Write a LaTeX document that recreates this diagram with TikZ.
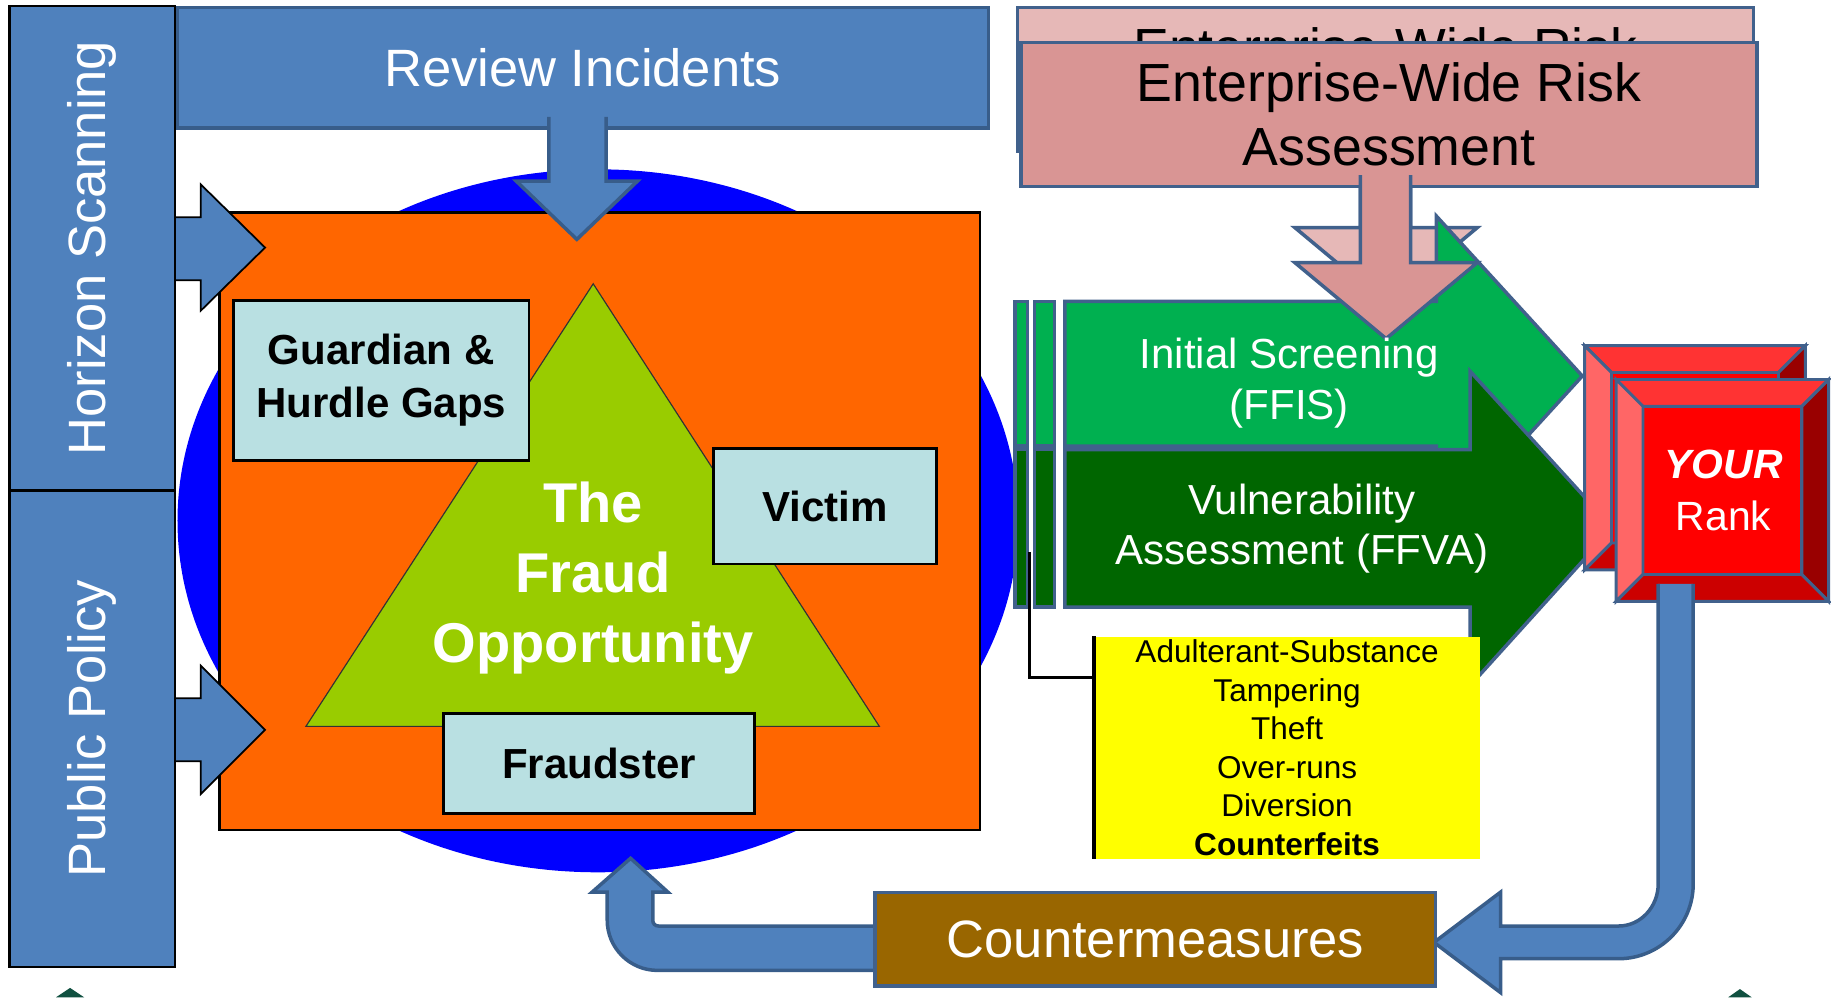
\documentclass[tikz,border=0pt]{standalone}
\usepackage{fontspec}
\setmainfont{Liberation Sans}

\definecolor{panelblue}{RGB}{79,129,189}
\definecolor{paneledge}{RGB}{56,93,138}
\definecolor{shapeedge}{RGB}{65,97,140}
\definecolor{riskpink}{RGB}{217,149,148}
\definecolor{riskpinkback}{RGB}{230,184,183}
\definecolor{screengreen}{RGB}{0,176,80}
\definecolor{vulngreen}{RGB}{0,102,0}
\definecolor{fraudorange}{RGB}{255,102,0}
\definecolor{triangreen}{RGB}{153,204,0}
\definecolor{gapcyan}{RGB}{185,224,226}
\definecolor{counterbrown}{RGB}{153,102,0}
\definecolor{listyellow}{RGB}{255,255,0}
\definecolor{bevtop}{RGB}{255,51,51}
\definecolor{bevleft}{RGB}{255,102,102}
\definecolor{bevright}{RGB}{153,0,0}
\definecolor{bevbottom}{RGB}{204,0,0}
\definecolor{bevface}{RGB}{255,0,0}
\definecolor{stubgreen}{RGB}{16,80,64}

\tikzset{
  panel/.style={draw=black, line width=2pt, fill=panelblue, text=white, inner sep=0pt},
  blockarrow/.style={draw=paneledge, line width=3pt, fill=panelblue},
  sidearrow/.style={draw=black, line width=1.5pt, fill=panelblue},
  riskbox/.style={draw=shapeedge, line width=3pt, minimum width=630pt, minimum height=123pt,
    anchor=north west, align=center, font=\fontsize{46}{55}\selectfont},
  riskarrow/.style={draw=shapeedge, line width=3pt},
  gapbox/.style={draw=black, line width=2.5pt, fill=gapcyan, align=center,
    font=\fontsize{36}{46}\selectfont\bfseries},
  greenarrow/.style={draw=shapeedge, line width=3pt},
  greentext/.style={text=white, align=center, font=\fontsize{36}{43}\selectfont},
  bevel/.style={draw=shapeedge, line width=2.5pt},
}

% bevelled red box: x1 y1 x2 y2
\newcommand{\rankbevel}[4]{%
  \filldraw[bevel, fill=bevface] (#1+23,#2+23) rectangle (#3-23,#4-23);
  \filldraw[bevel, fill=bevtop] (#1,#2) -- (#3,#2) -- (#3-23,#2+23) -- (#1+23,#2+23) -- cycle;
  \filldraw[bevel, fill=bevleft] (#1,#2) -- (#1+23,#2+23) -- (#1+23,#4-23) -- (#1,#4) -- cycle;
  \filldraw[bevel, fill=bevright] (#3,#2) -- (#3,#4) -- (#3-23,#4-23) -- (#3-23,#2+23) -- cycle;
  \filldraw[bevel, fill=bevbottom] (#1,#4) -- (#3,#4) -- (#3-23,#4-23) -- (#1+23,#4-23) -- cycle;
}

\begin{document}
\begin{tikzpicture}[x=1pt, y=-1pt]
    \useasboundingbox (0,0) rectangle (1568,854);

    % the opportunity
    \fill[blue] (512,446) ellipse [x radius=360, y radius=301];
    \node[draw=black, line width=2pt, fill=fraudorange, minimum width=651pt, minimum height=529pt,
      anchor=north west] (frame) at (187,181) {};
    \filldraw[draw=black!80, line width=1pt, fill=triangreen] (508,243) -- (753,622) -- (262,622) -- cycle;
    \node[text=white, align=center, font=\fontsize{48}{60}\selectfont\bfseries] (opp) at (508,495)
      {The\\Fraud\\Opportunity};

    \node[gapbox, minimum width=253pt, minimum height=137pt] (gaps) at (326.5,325.5) {Guardian \&\\Hurdle Gaps};
    \node[gapbox, minimum width=191pt, minimum height=99pt] (victim) at (706.5,433.5) {Victim};
    \node[gapbox, minimum width=266pt, minimum height=86pt] (fraudster) at (513,654) {Fraudster};

    % inputs from the left and the top
    \filldraw[sidearrow] (145,186) -- (172,186) -- (172,158) -- (227,212) -- (172,266) -- (172,240) -- (145,240);
    \filldraw[sidearrow] (145,598) -- (172,598) -- (172,570) -- (227,625) -- (172,680) -- (172,652) -- (145,652);

    \node[panel, draw=paneledge, line width=3pt, minimum width=695pt, minimum height=103pt,
      anchor=north west, font=\fontsize{45}{54}\selectfont] (review) at (150,5) {Review Incidents};
    \filldraw[blockarrow] (470,100) -- (470,155) -- (442,155) -- (494,205) -- (546,155) -- (519,155) -- (519,100);

    \node[panel, rotate=90, minimum width=415pt, minimum height=142pt,
      font=\fontsize{45}{54}\selectfont] (scan) at (79,212.5) {Horizon Scanning};
    \node[panel, rotate=90, minimum width=408pt, minimum height=142pt,
      font=\fontsize{45}{54}\selectfont] (policy) at (79,624) {Public Policy};

    % risk assessment
    \node[riskbox, fill=riskpinkback] (riskback) at (870,5) {Enterprise-Wide Risk\\Assessment};
    \filldraw[riskarrow, fill=riskpinkback] (1165,120) -- (1165,195) -- (1109,195) -- (1187,260) -- (1265,195) -- (1208,195) -- (1208,120);

    % screening and vulnerability
    \filldraw[greenarrow, fill=screengreen] (869,258) rectangle (880,382);
    \filldraw[greenarrow, fill=screengreen] (886,258) rectangle (903,382);
    \filldraw[greenarrow, fill=vulngreen] (869,385) rectangle (880,520);
    \filldraw[greenarrow, fill=vulngreen] (886,385) rectangle (903,520);
    \filldraw[greenarrow, fill=screengreen] (912,258) -- (1230,258) -- (1230,185) -- (1355,322) -- (1230,459) -- (1230,382) -- (912,382) -- cycle;

    \node[riskbox, fill=riskpink] (risk) at (873,35) {Enterprise-Wide Risk\\Assessment};
    \filldraw[riskarrow, fill=riskpink] (1165,150) -- (1165,225) -- (1109,225) -- (1187,290) -- (1265,225) -- (1208,225) -- (1208,150);

    \filldraw[greenarrow, fill=vulngreen] (912,385) -- (1259,385) -- (1259,318) -- (1381,452) -- (1259,587) -- (1259,520) -- (912,520) -- cycle;
    \node[greentext] (screen) at (1104,328) {Initial Screening\\(FFIS)};
    \node[greentext] (vuln) at (1115,453) {Vulnerability\\Assessment (FFVA)};

    % ranking
    \rankbevel{1357}{296}{1546}{488}
    \rankbevel{1384}{325}{1566}{515}
    \node[text=white, align=center, font=\fontsize{35}{45}\selectfont] (rank) at (1476,420)
      {\textbf{\textit{YOUR}}\\Rank};

    % fraud types
    \node[fill=listyellow, minimum width=330pt, minimum height=190pt, anchor=north west, align=center,
      inner sep=0pt, font=\fontsize{27}{33}\selectfont] (list) at (937,545)
      {Adulterant-Substance\\Tampering\\Theft\\Over-runs\\Diversion\\\textbf{Counterfeits}};
    \draw[line width=3pt] (list.north west) -- (list.south west);
    \coordinate (tag) at (882,473);
    \coordinate (tagend) at (937,580);
    \draw[line width=2.5pt] (tag) |- (tagend);

    % feedback loop
    \filldraw[blockarrow] (1450,500) -- (1450,757) .. controls (1450,792.3) and (1421.3,821) .. (1386,821)
      -- (1285,821) -- (1285,850) -- (1228,807) -- (1285,764) -- (1285,793) -- (1386,793)
      .. controls (1405.3,793) and (1420,776.3) .. (1420,757) -- (1420,500);
    \filldraw[blockarrow] (760,793) -- (564,793) .. controls (561,793) and (559,791) .. (559,788)
      -- (559,764) -- (572,764) -- (540,735) -- (507,764) -- (520,764) -- (520,788)
      .. controls (520,811.7) and (539.3,831) .. (563,831) -- (760,831);
    \node[draw=shapeedge, line width=3pt, fill=counterbrown, text=white, minimum width=480pt,
      minimum height=80pt, anchor=north west, font=\fontsize{45}{54}\selectfont] (counter) at (748,763)
      {Countermeasures};

    \fill[stubgreen] (48,854) -- (60,846) -- (72,854) -- cycle;
    \fill[stubgreen] (1480,854) -- (1490,847) -- (1500,854) -- cycle;
\end{tikzpicture}
\end{document}
